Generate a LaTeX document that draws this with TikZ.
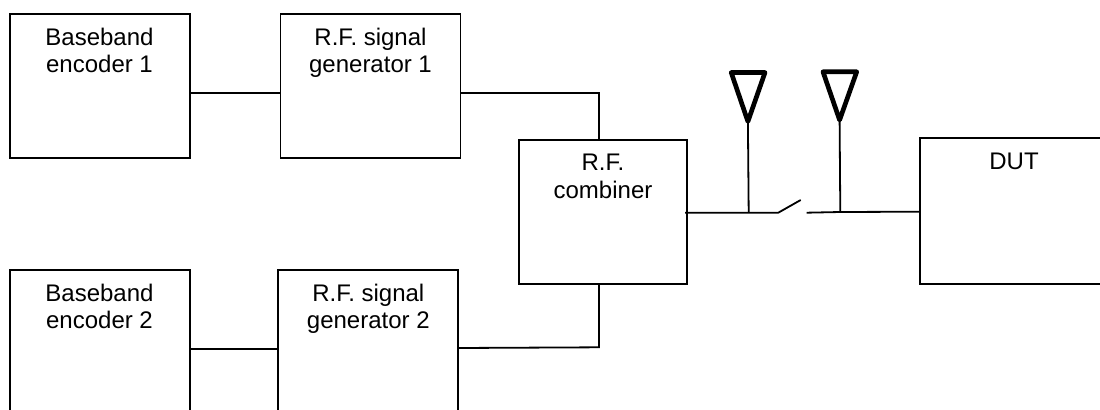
\documentclass[tikz,border=0pt]{standalone}
\usepackage{fontspec}
\setmainfont{Liberation Sans}
\tikzset{
  px/.style={x=0.75pt,y=-0.75pt},
  wire/.style={line width=1.35pt,black,line cap=butt,line join=miter},
  blockbox/.style={draw=black,line width=1.35pt,inner sep=0pt,outer sep=0pt,rectangle},
  std/.style={blockbox,minimum width=135pt,minimum height=108pt},
  wide/.style={blockbox,minimum width=126pt,minimum height=108pt},
  dutbox/.style={blockbox,minimum width=142.5pt,minimum height=109.5pt},
  label/.style={font=\fontsize{18pt}{20.5pt}\selectfont,align=center,text=black,inner sep=0pt,anchor=north},
  aerial/.style={draw=black,line width=3.5pt,line join=round}
}
\begin{document}
\begin{tikzpicture}[px]
\useasboundingbox (0,0) rectangle (1100,410);
\begin{scope}
\clip (0,0) rectangle (1100,410);
\node[std] (bb1) at (100,86) {};
\node[std] (rf1) at (370.5,86) {};
\node[std] (bb2) at (100,342) {};
\node[std] (rf2) at (368.2,342) {};
\node[wide] (comb) at (603.2,212) {};
\node[dutbox] (dut) at (1015,211) {};
\end{scope}
\node[label] (t1) at (99.5,28) {Baseband\\encoder 1};
\node[label] (t2) at (370.5,28) {R.F. signal\\generator 1};
\node[label] (t3) at (99.5,284) {Baseband\\encoder 2};
\node[label] (t4) at (368.3,284) {R.F. signal\\generator 2};
\node[label] (t5) at (603,154) {R.F.\\combiner};
\node[label] (t6) at (1014,153) {DUT};
% connector points
\coordinate (c1) at (599,92.7);
\coordinate (c2) at (599,347.3);
\coordinate (sw1) at (778.3,212.7);
\coordinate (sw2) at (800.7,200);
\coordinate (sw3) at (806.7,212.7);
\coordinate (out) at (685,212.7);
\coordinate (ant1) at (748.7,212.7);
\coordinate (ant2) at (840.3,212);
\coordinate (a1t) at (747.9,121.5);
\coordinate (a2t) at (839.6,120);
\draw[wire] (bb1.east |- c1) -- (rf1.west |- c1);
\draw[wire] (bb2.east |- 0,349.3) -- (rf2.west |- 0,349.3);
\draw[wire] (rf1.east |- c1) -- (c1) -- (c1 |- comb.north);
\draw[wire] (rf2.east |- 0,348) -- (c2) -- (c2 |- comb.south);
\draw[wire] (out) -- (sw1) -- (sw2);
\draw[wire] (sw3) -- (ant2) -- (dut.west |- 0,211.7);
\draw[wire] (ant1) -- (a1t);
\draw[wire] (ant2) -- (a2t);
\draw[aerial] (a1t) -- (731.2,72.5) -- (765,72.5) -- cycle;
\draw[aerial] (a2t) -- (823,71.8) -- (856.7,71.8) -- cycle;
\end{tikzpicture}
\end{document}
